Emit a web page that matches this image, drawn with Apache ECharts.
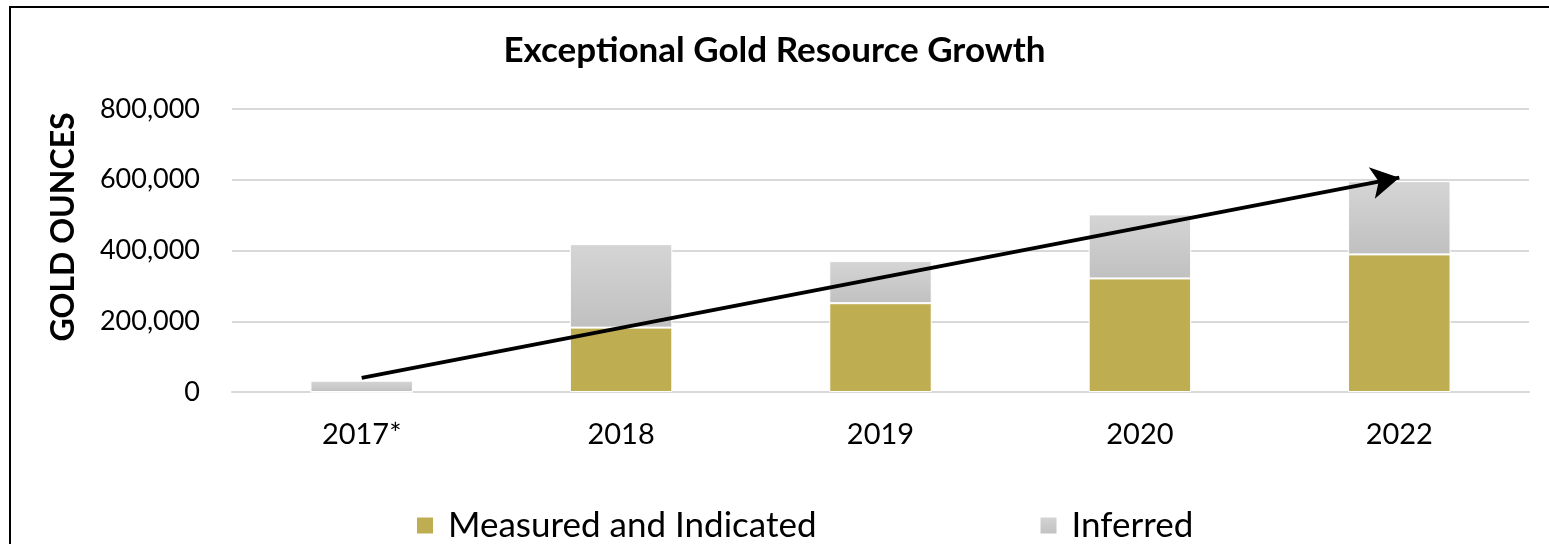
<!DOCTYPE html>
<html>
<head>
<meta charset="utf-8">
<script src="https://cdn.jsdelivr.net/npm/echarts@6/dist/echarts.min.js"></script>
<style>
html,body{margin:0;padding:0;background:#fff;}
#chart{width:1549px;height:544px;}
</style>
</head>
<body>
<div id="chart"></div>
<script>
const categories = ['2017*', '2018', '2019', '2020', '2022'];
const measuredIndicated = [0, 182000, 251000, 321000, 389000];
const inferred = [32000, 236000, 119000, 181000, 207000];
const yTicks = [0, 200000, 400000, 600000, 800000];
const trendStart = ['2017*', 40000];
const trendEnd = ['2022', 606000];

const FONT = 'Lato, "Open Sans", sans-serif';
const chart = echarts.init(document.getElementById('chart'), null, {renderer: 'canvas'});

const option = {
  animation: false,
  backgroundColor: '#ffffff',
  title: {
    text: 'Exceptional Gold Resource Growth',
    left: 'center',
    top: 28,
    textStyle: {fontFamily: FONT, fontWeight: 'bold', fontSize: 35, color: '#000'}
  },
  legend: {
    bottom: -4,
    left: 410,
    itemGap: 222,
    itemWidth: 18,
    itemHeight: 18,
    icon: 'rect',
    textStyle: {fontFamily: FONT, fontSize: 35, color: '#000', padding: [0, 0, 0, 9]},
    data: ['Measured and Indicated', 'Inferred']
  },
  grid: {left: 232, right: 20, top: 109, bottom: 152, containLabel: false},
  xAxis: {
    type: 'category',
    data: categories,
    axisLine: {lineStyle: {color: '#d9d9d9', width: 2}},
    axisTick: {show: false},
    axisLabel: {fontFamily: FONT, fontSize: 29, color: '#000', margin: 28}
  },
  yAxis: {
    type: 'value',
    min: yTicks[0],
    max: yTicks[yTicks.length - 1],
    interval: 200000,
    axisLine: {show: false},
    axisTick: {show: false},
    splitLine: {lineStyle: {color: '#d9d9d9', width: 2}},
    axisLabel: {
      fontFamily: FONT, fontSize: 27, color: '#000', margin: 32,
      formatter: v => v.toLocaleString('en-US')
    }
  },
  graphic: [
    {type: 'rect', shape: {x: 10, y: 7, width: 3000, height: 2000}, style: {fill: 'none', stroke: '#000', lineWidth: 2}, silent: true, z: -10},
    {type: 'text', x: 64, y: 227, rotation: Math.PI / 2, style: {text: 'GOLD OUNCES', fontFamily: FONT, fontWeight: 'bold', fontSize: 32, fill: '#000', align: 'center', verticalAlign: 'middle'}}
  ],
  series: [
    {
      name: 'Measured and Indicated',
      type: 'bar',
      stack: 'total',
      data: measuredIndicated,
      barWidth: '39.5%',
      itemStyle: {color: '#bfad52', borderColor: '#ffffff', borderWidth: 1}
    },
    {
      name: 'Inferred',
      type: 'bar',
      stack: 'total',
      data: inferred,
      barWidth: '39.5%',
      itemStyle: {
        color: new echarts.graphic.LinearGradient(0, 0, 0, 1, [
          {offset: 0, color: '#d5d5d5'},
          {offset: 1, color: '#c0c0c0'}
        ]),
        borderColor: '#ffffff', borderWidth: 1
      },
      markLine: {
        silent: true,
        symbol: ['none', 'arrow'],
        symbolSize: [24, 28],
        label: {show: false},
        lineStyle: {color: '#000', width: 4, type: 'solid'},
        data: [[
          {coord: trendStart},
          {coord: trendEnd}
        ]]
      }
    }
  ]
};
chart.setOption(option);
</script>
</body>
</html>
